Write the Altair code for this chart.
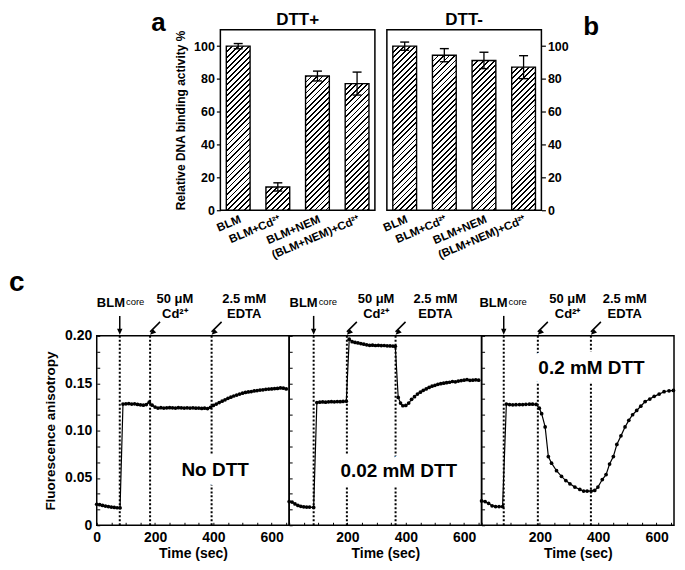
import altair as alt
import pandas as pd

FONT = "Liberation Sans"

# ---------------- panel a / b data ----------------
cats = ["BLM", "BLM+Cd²⁺", "BLM+NEM", "(BLM+NEM)+Cd²⁺"]
dtt_plus = [100.0, 14.2, 81.8, 77.2]
dtt_plus_err = [1.6, 2.5, 3.0, 7.0]
dtt_minus = [100.0, 94.5, 91.3, 87.2]
dtt_minus_err = [2.5, 4.0, 5.0, 7.0]

# ---------------- panel c data ----------------
t_nodtt = [0, 10, 20, 30, 40, 50, 60, 70, 80, 90, 100, 110, 120, 130, 140, 150, 160, 170,
           180, 190, 200, 210, 220, 230, 240, 250, 260, 270, 280, 290, 300, 310, 320, 330,
           340, 350, 360, 370, 380, 390, 400, 410, 420, 430, 440, 450, 460, 470, 480, 490,
           500, 510, 520, 530, 540, 550, 560, 570, 580, 590, 600, 610, 620, 630, 640, 650]
v_nodtt = [0.0222, 0.0218, 0.0210, 0.0203, 0.0197, 0.0192, 0.0188, 0.0185, 0.0183, 0.1280,
           0.1282, 0.1285, 0.1280, 0.1283, 0.1276, 0.1272, 0.1268, 0.1275, 0.1300, 0.1268,
           0.1248, 0.1238, 0.1242, 0.1238, 0.1240, 0.1242, 0.1240, 0.1238, 0.1242, 0.1240,
           0.1238, 0.1240, 0.1238, 0.1240, 0.1236, 0.1238, 0.1234, 0.1236, 0.1232, 0.1245,
           0.1265, 0.1280, 0.1295, 0.1310, 0.1325, 0.1340, 0.1352, 0.1365, 0.1375, 0.1385,
           0.1395, 0.1402, 0.1408, 0.1412, 0.1418, 0.1422, 0.1428, 0.1430, 0.1435, 0.1438,
           0.1440, 0.1443, 0.1445, 0.1450, 0.1448, 0.1440]

t_dtt002 = [0, 10, 20, 30, 40, 50, 60, 70, 84, 95, 105, 115, 125, 135, 145, 155, 165, 175,
            185, 196, 206, 216, 226, 236, 246, 256, 266, 276, 286, 296, 306, 316, 326, 336,
            346, 356, 364, 374, 382, 390, 400, 410, 420, 430, 440, 450, 460, 470, 480, 490,
            500, 510, 520, 530, 540, 550, 560, 570, 580, 590, 600, 610, 620, 630, 640, 650]
v_dtt002 = [0.0250, 0.0245, 0.0225, 0.0210, 0.0200, 0.0195, 0.0192, 0.0192, 0.0188, 0.1295,
            0.1300, 0.1302, 0.1300, 0.1303, 0.1305, 0.1303, 0.1306, 0.1305, 0.1308, 0.1310,
            0.1965, 0.1938, 0.1930, 0.1925, 0.1918, 0.1912, 0.1905, 0.1900, 0.1902, 0.1898,
            0.1900, 0.1897, 0.1898, 0.1895, 0.1893, 0.1892, 0.1890, 0.1350, 0.1290, 0.1262,
            0.1265, 0.1290, 0.1330, 0.1358, 0.1385, 0.1405, 0.1425, 0.1440, 0.1455, 0.1468,
            0.1478, 0.1488, 0.1495, 0.1500, 0.1505, 0.1510, 0.1518, 0.1515, 0.1522, 0.1528,
            0.1532, 0.1538, 0.1530, 0.1532, 0.1536, 0.1532]

t_dtt02 = [0, 12, 24, 36, 48, 60, 72, 85, 96, 107, 118, 130, 141, 152, 164, 175, 187, 198,
           206, 218, 229, 240, 257, 274, 289, 303, 320, 337, 350, 362, 376, 388, 399, 414,
           427, 439, 452, 464, 478, 492, 505, 518, 532, 546, 561, 577, 592, 609, 626, 643, 658]
v_dtt02 = [0.0257, 0.0250, 0.0232, 0.0205, 0.0198, 0.0198, 0.0198, 0.1280, 0.1275, 0.1272,
           0.1273, 0.1275, 0.1274, 0.1277, 0.1278, 0.1278, 0.1276, 0.1236, 0.1178, 0.1038,
           0.0726, 0.0656, 0.0576, 0.0517, 0.0472, 0.0438, 0.0403, 0.0378, 0.0361, 0.0361,
           0.0361, 0.0368, 0.0403, 0.0483, 0.0535, 0.0646, 0.0726, 0.0854, 0.0944, 0.1038,
           0.1108, 0.1167, 0.1212, 0.1257, 0.1306, 0.1333, 0.1361, 0.1385, 0.1410, 0.1420,
           0.1424]

# additions (sec): BLMcore, Cd2+, EDTA
events_nodtt = [79, 183, 394]
events_dtt002 = [84, 198, 365]
events_dtt02 = [76, 193, 375]
# label centres (sec) for BLMcore, "50 μM / Cd2+", "2.5 mM / EDTA"
labels_nodtt = [83, 268, 506]
labels_dtt002 = [84, 298, 502]
labels_dtt02 = [75, 295, 491]
cond_text = ["No DTT", "0.02 mM DTT", "0.2 mM DTT"]
cond_t = [406, 376, 377]
cond_v = [0.0586, 0.057, 0.1664]

# ---------------- sizes ----------------
BAR_W, BAR_H = 155, 181
PI, PO = 0.4, 0.15
YMAX = 110
PERIOD, FRAC = 5.5, 0.33
TS_W, TS_H = 193, 190


def hatch(value):
    step = BAR_W / (len(cats) - PI + 2 * PO)
    w = step * (1 - PI)
    h = value / YMAX * BAR_H
    r = h / w
    dt = PERIOD / (w * (1 + r * r))
    tmax = (1 + r) / (1 + r * r)
    stops = [alt.GradientStop(offset=0, color="white")]
    a = 0.0
    while a < min(tmax + dt, 1.0):
        b = min(a + FRAC * dt, 1.0)
        stops += [alt.GradientStop(offset=a, color="white"),
                  alt.GradientStop(offset=a, color="black"),
                  alt.GradientStop(offset=b, color="black"),
                  alt.GradientStop(offset=b, color="white")]
        a += dt
    return alt.LinearGradient(gradient="linear", stops=stops, x1=0, y1=0, x2=1, y2=r)


def letter(ch, x, y, align="center", size=26):
    return alt.Chart(pd.DataFrame({"s": [ch]})).mark_text(
        font=FONT, fontSize=size, fontWeight="bold", align=align, baseline="alphabetic",
        color="black"
    ).encode(x=alt.value(x), y=alt.value(y), text="s:N")


def spacer(width, ch, x, y):
    return letter(ch, x, y).properties(
        width=width, height=BAR_H, view=alt.ViewBackground(stroke="transparent"))


def bar_panel(vals, errs, title, orient):
    df = pd.DataFrame({"cat": cats, "val": vals,
                       "lo": [v - e for v, e in zip(vals, errs)],
                       "hi": [v + e for v, e in zip(vals, errs)]})
    xaxis = alt.Axis(title=None, labelAngle=-23, ticks=False, domain=False,
                     labelFontSize=11.5, labelAlign="right", labelBaseline="top",
                     labelPadding=3)
    if orient == "left":
        yaxis = alt.Axis(values=[0, 20, 40, 60, 80, 100], tickSize=4, tickWidth=1.2,
                         domain=False, labelFontSize=12.5, labelPadding=2,
                         title="Relative DNA binding activity %", titleFontSize=12,
                         titlePadding=6, labelFlush=False, grid=False)
    else:
        yaxis = alt.Axis(orient="right", values=[0, 20, 40, 60, 80, 100], tickSize=4,
                         tickWidth=1.2, domain=False, labelFontSize=12.5, labelPadding=2,
                         title=None, labelFlush=False, grid=False)
    xs = alt.X("cat:N", sort=cats, scale=alt.Scale(domain=cats, paddingInner=PI,
                                                   paddingOuter=PO), axis=xaxis)
    ysc = alt.Scale(domain=[0, YMAX], nice=False)
    layers = []
    for c, v in zip(cats, vals):
        layers.append(
            alt.Chart(df).transform_filter(alt.datum.cat == c)
            .mark_bar(fill=hatch(v), stroke="black", strokeWidth=1.4)
            .encode(x=xs, y=alt.Y("val:Q", scale=ysc, axis=yaxis))
        )
    rule = alt.Chart(df).mark_rule(color="black", strokeWidth=1.3).encode(
        x=xs, y=alt.Y("lo:Q", scale=ysc, axis=yaxis), y2="hi:Q")
    thi = alt.Chart(df).mark_tick(color="black", size=9, thickness=1.4, opacity=1).encode(
        x=xs, y=alt.Y("hi:Q", scale=ysc, axis=yaxis))
    tlo = alt.Chart(df).mark_tick(color="black", size=9, thickness=1.4, opacity=1).encode(
        x=xs, y=alt.Y("lo:Q", scale=ysc, axis=yaxis))
    return alt.layer(*layers, rule, thi, tlo).properties(
        width=BAR_W, height=BAR_H,
        title=alt.TitleParams(title, fontSize=17, offset=1))


ARROW = "M0,0L-0.85,-1.9L0.85,-1.9Z"


def ts_panel(t, v, events, labels, idx, first):
    XS = alt.Scale(domain=[0, 660], nice=False)
    YS = alt.Scale(domain=[0, 0.2], nice=False)
    if first:
        lab_x = "datum.value % 200 == 0 ? datum.label : ''"
    else:
        lab_x = "datum.value % 200 == 0 && datum.value > 0 ? datum.label : ''"
    xaxis = alt.Axis(values=list(range(0, 651, 50)), labelExpr=lab_x, tickSize=3,
                     offset=-3, domain=False, labelFlush=False, labelPadding=5,
                     labelFontSize=14, title="Time (sec)", titleFontSize=14,
                     titlePadding=2, grid=False, labelOverlap=False)
    yvals = [round(i * 0.2 / 12, 5) for i in range(13)]
    lab_y = ("abs(datum.value*20 - round(datum.value*20)) < 0.001 ? "
             "(datum.value == 0 ? '0' : format(datum.value, '.2f')) : ''")
    if first:
        yaxis = alt.Axis(values=yvals, labelExpr=lab_y, tickSize=3, offset=-3,
                         domain=False, labelFlush=False, labelPadding=5,
                         labelFontSize=14, title="Fluorescence anisotropy",
                         titleFontSize=13.5, titlePadding=7, grid=False,
                         labelOverlap=False)
    else:
        yaxis = alt.Axis(values=yvals, labels=False, tickSize=3, offset=-3,
                         domain=False, title=None, grid=False)

    X = alt.X("t:Q", scale=XS, axis=xaxis)
    Y = alt.Y("v:Q", scale=YS, axis=yaxis)
    data = pd.DataFrame({"t": t, "v": v})
    ev = pd.DataFrame({"t": events, "kind": ["BLM", "Cd", "EDTA"]})
    lb = pd.DataFrame({"t": labels, "kind": ["BLM", "Cd", "EDTA"]})
    cond = pd.DataFrame({"t": [cond_t[idx]], "v": [cond_v[idx]], "s": [cond_text[idx]]})

    dotted = alt.Chart(ev).mark_rule(color="black", strokeWidth=2, strokeDash=[2, 2]).encode(
        x=X, y=alt.value(0), y2=alt.value(TS_H))
    halo = alt.Chart(cond).mark_text(font=FONT, fontSize=19, fontWeight="bold",
                                     fill="white", stroke="white", strokeWidth=18,
                                     strokeJoin="round").encode(x=X, y=Y, text="s:N")
    ctext = alt.Chart(cond).mark_text(font=FONT, fontSize=19, fontWeight="bold",
                                      color="black").encode(x=X, y=Y, text="s:N")
    line = alt.Chart(data).mark_line(color="black", strokeWidth=1.2).encode(x=X, y=Y)
    pts = alt.Chart(data).mark_circle(color="black", size=14, opacity=1).encode(x=X, y=Y)

    blm_l = lb[lb.kind == "BLM"]
    two_l = lb[lb.kind != "BLM"]
    blm_e = ev[ev.kind == "BLM"]
    diag_e = ev[ev.kind != "BLM"]
    two_l = two_l.assign(top=["50 μM", "2.5 mM"], bot=["Cd²⁺", "EDTA"])

    t_blm = alt.Chart(blm_l).mark_text(font=FONT, fontSize=13, fontWeight="bold",
                                       align="right", baseline="alphabetic", dx=4).encode(
        x=X, y=alt.value(-29), text=alt.value("BLM"))
    t_core = alt.Chart(blm_l).mark_text(font=FONT, fontSize=9.5, fontWeight="normal",
                                        align="left", baseline="alphabetic", dx=5).encode(
        x=X, y=alt.value(-31), text=alt.value("core"))
    t_top = alt.Chart(two_l).mark_text(font=FONT, fontSize=13, fontWeight="bold",
                                       align="center", baseline="alphabetic").encode(
        x=X, y=alt.value(-33), text="top:N")
    t_bot = alt.Chart(two_l).mark_text(font=FONT, fontSize=13, fontWeight="bold",
                                       align="center", baseline="alphabetic").encode(
        x=X, y=alt.value(-18), text="bot:N")
    a_blm = alt.Chart(blm_e).mark_rule(color="black", strokeWidth=1.5).encode(
        x=X, y=alt.value(-20), y2=alt.value(-4))
    a_diag = alt.Chart(diag_e).mark_rule(color="black", strokeWidth=1.5, xOffset=10).encode(
        x=X, x2="t:Q", y=alt.value(-14), y2=alt.value(-4))
    h_blm = alt.Chart(blm_e).mark_point(shape=ARROW, filled=True, size=40, color="black",
                                        opacity=1).encode(x=X, y=alt.value(-1))
    h_diag = alt.Chart(diag_e).mark_point(shape=ARROW, filled=True, size=40, color="black",
                                          opacity=1, angle=45).encode(x=X, y=alt.value(-1))
    layers = [dotted, halo, ctext, line, pts, t_blm, t_core, t_top, t_bot,
              a_blm, a_diag, h_blm, h_diag]
    if first:
        layers.append(letter("c", -88, -45, align="left", size=28))
    return alt.layer(*layers).properties(width=TS_W, height=TS_H)


pa = bar_panel(dtt_plus, dtt_plus_err, "DTT+", "left")
pb = bar_panel(dtt_minus, dtt_minus_err, "DTT-", "right")
top = alt.hconcat(spacer(112, "a", 62, 1), pa, pb, spacer(50, "b", 38, 5),
                  spacing=12, bounds="flush")

p1 = ts_panel(t_nodtt, v_nodtt, events_nodtt, labels_nodtt, 0, True)
p2 = ts_panel(t_dtt002, v_dtt002, events_dtt002, labels_dtt002, 1, False)
p3 = ts_panel(t_dtt02, v_dtt02, events_dtt02, labels_dtt02, 2, False)
bottom = alt.hconcat(p1, p2, p3, spacing=0, bounds="flush")

chart = alt.vconcat(top, bottom, spacing=307, bounds="flush").properties(padding=0).configure(
    font=FONT
).configure_view(stroke="black", strokeWidth=1.5).configure_axis(
    labelFont=FONT, titleFont=FONT, labelFontWeight="bold", titleFontWeight="bold",
    labelColor="black", titleColor="black", tickColor="black", domainColor="black"
).configure_title(font=FONT, fontWeight="bold", color="black")

chart.save("out.html", embed_options={"renderer": "svg", "actions": False})
